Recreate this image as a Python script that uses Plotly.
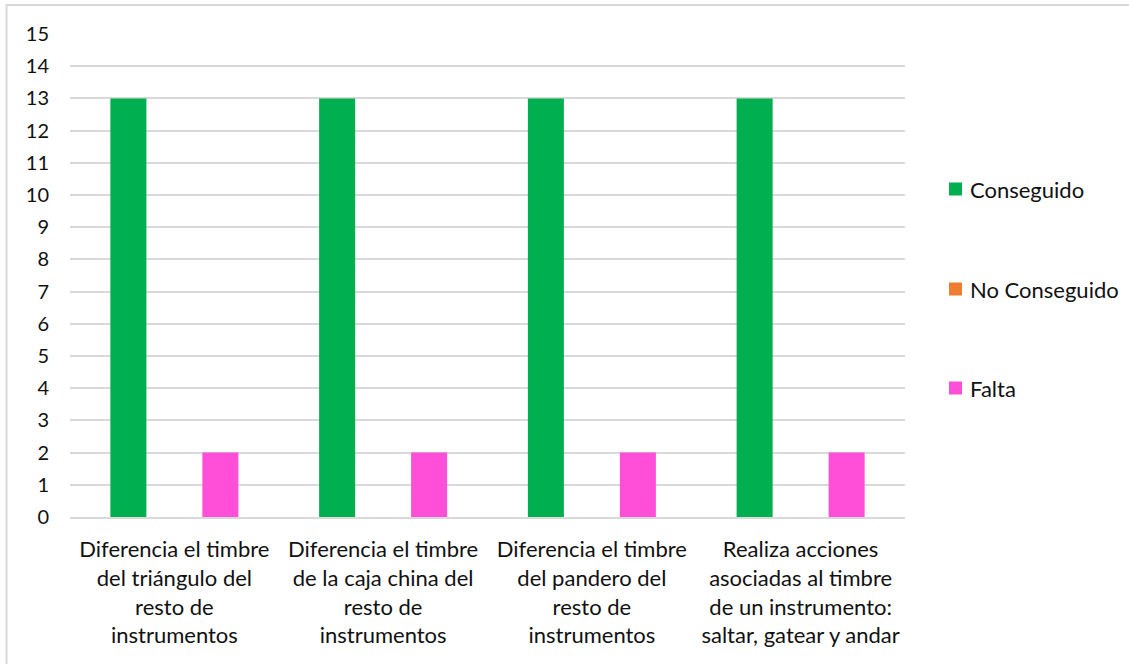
import plotly.graph_objects as go

categories = [
    "Diferencia el timbre<br>del triángulo del<br>resto de<br>instrumentos",
    "Diferencia el timbre<br>de la caja china del<br>resto de<br>instrumentos",
    "Diferencia el timbre<br>del pandero del<br>resto de<br>instrumentos",
    "Realiza acciones<br>asociadas al timbre<br>de un instrumento:<br>saltar, gatear y andar",
]
series_names = ["Conseguido", "No Conseguido", "Falta"]
conseguido = [13, 13, 13, 13]
no_conseguido = [0, 0, 0, 0]
falta = [2, 2, 2, 2]
colors = ["#00B050", "#ED7D31", "#FF4FD8"]

FONT = "Lato, 'Open Sans', sans-serif"
TEXT = "#111111"

# plot area in pixels
L, R, T, B = 70, 905, 34, 517
W, H = 1129, 664


def px_x(p):
    return (p - L) / (R - L)


def px_y(p):
    return (B - p) / (B - T)


fig = go.Figure()
for name, vals, color in zip(series_names, [conseguido, no_conseguido, falta], colors):
    fig.add_trace(go.Bar(x=categories, y=vals, name=name,
                         marker_color=color, marker_line_width=0))

# legend drawn by hand so the wide Excel-style spacing fits
for name, color, yc in zip(series_names, colors, [189, 289, 388]):
    fig.add_shape(type="rect", xref="paper", yref="paper",
                  x0=px_x(949), x1=px_x(962), y0=px_y(yc + 6.5), y1=px_y(yc - 6.5),
                  fillcolor=color, line_width=0)
    fig.add_annotation(xref="paper", yref="paper", x=px_x(968), y=px_y(yc),
                       xanchor="left", yanchor="middle", showarrow=False,
                       text=name, font=dict(size=22, color=TEXT))

# chart border (top and left edges visible)
fig.add_shape(type="line", xref="paper", yref="paper",
              x0=px_x(6), x1=px_x(1130), y0=px_y(5), y1=px_y(5),
              line=dict(color="#D9D9D9", width=2))
fig.add_shape(type="line", xref="paper", yref="paper",
              x0=px_x(6.5), x1=px_x(6.5), y0=px_y(5), y1=px_y(670),
              line=dict(color="#D9D9D9", width=2))

fig.update_layout(
    width=W, height=H,
    margin=dict(l=L, r=W - R, t=T, b=H - B),
    paper_bgcolor="white", plot_bgcolor="white",
    font=dict(family=FONT, size=22, color=TEXT),
    barmode="group", bargap=0.339, bargroupgap=0.217,
    showlegend=False,
    xaxis=dict(showgrid=False, showline=True, linecolor="#D9D9D9",
               linewidth=2, ticks="", tickangle=0, ticklabelstandoff=12,
               tickfont=dict(size=22)),
    yaxis=dict(range=[0, 15], dtick=1, showgrid=True, gridcolor="#D9D9D9",
               gridwidth=1.5, zeroline=False, showline=False, ticks="",
               ticklabelstandoff=20, tickfont=dict(size=20)),
)

fig.write_html("out.html", config={"displayModeBar": False},
               post_script="document.body.style.margin='0px';")
